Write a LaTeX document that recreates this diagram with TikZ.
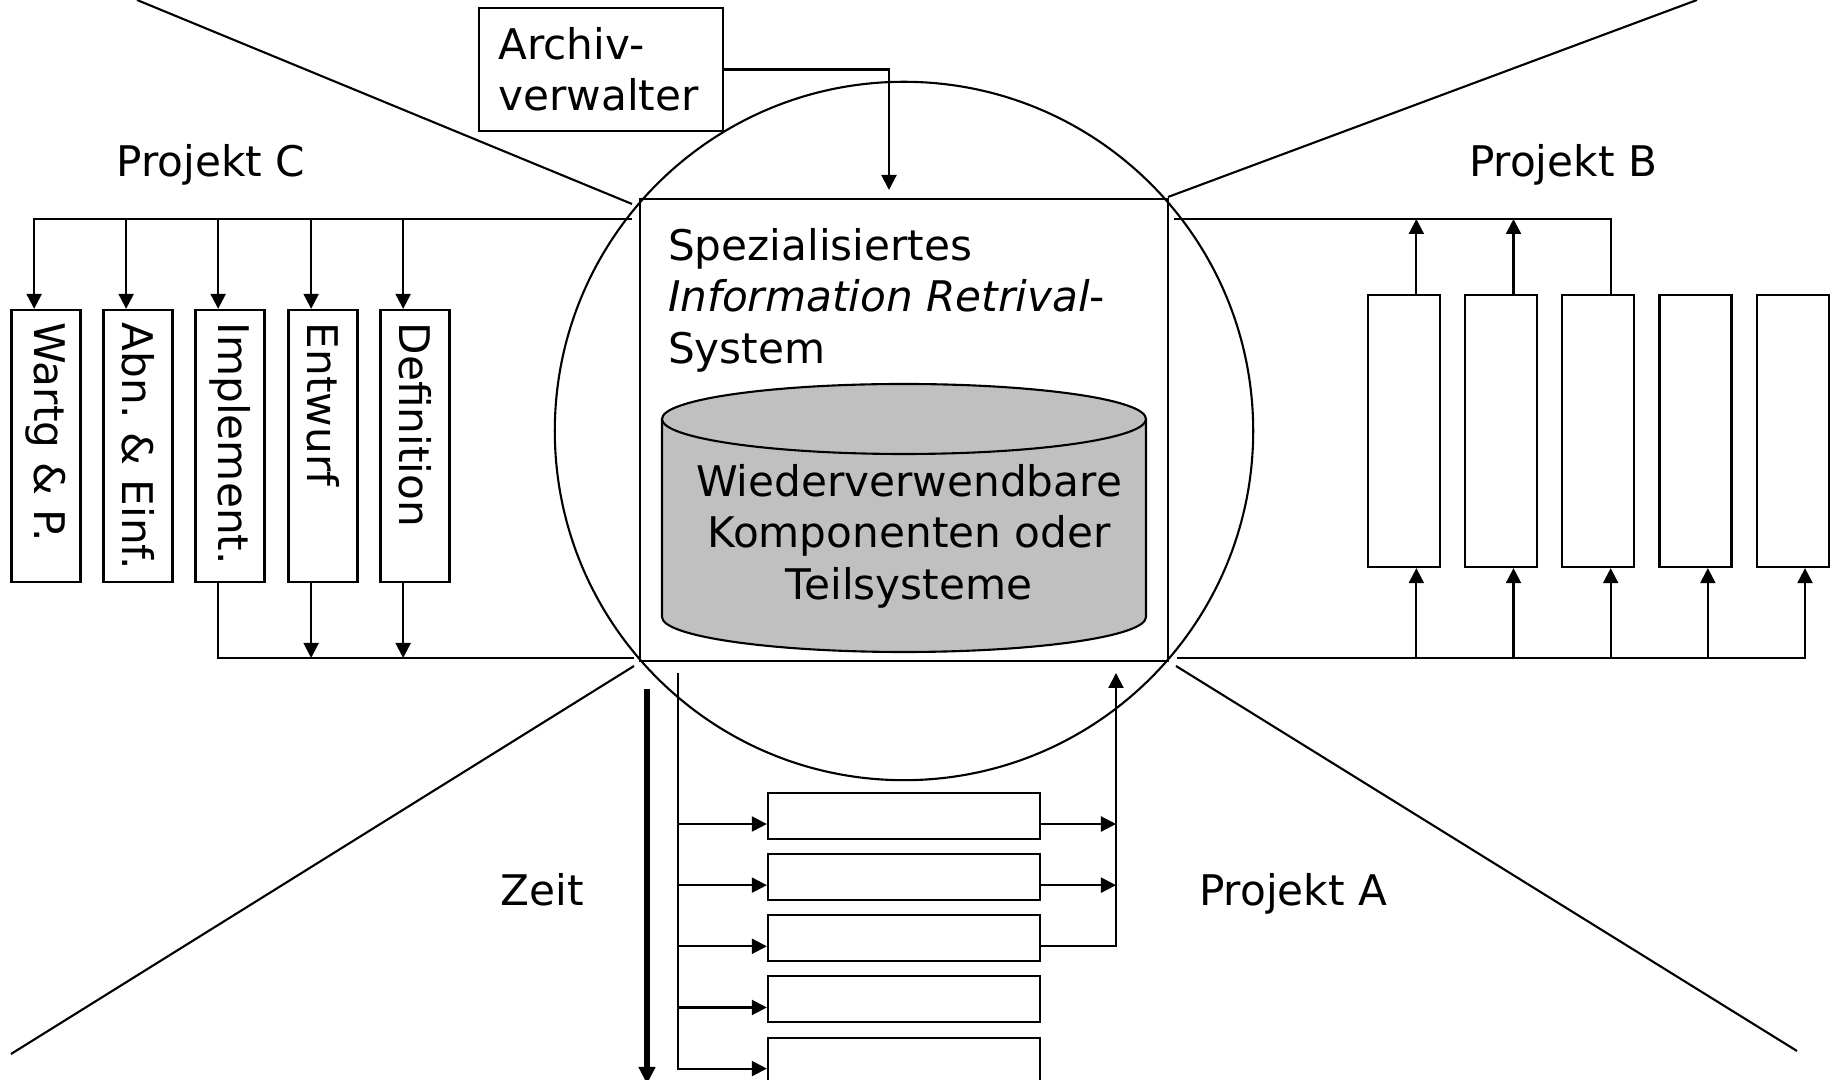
\documentclass[tikz,border=0pt]{standalone}
\usepackage{fontspec}
\setmainfont{DejaVu Sans}
\usetikzlibrary{arrows.meta,positioning,calc}
\definecolor{silver}{HTML}{C0C0C0}

\begin{document}
\begin{tikzpicture}[x=0.01cm,y=-0.01cm,
    font=\fontsize{12}{14.65}\selectfont,
    line width=0.6pt,
    every node/.style={inner sep=0pt},
    >={Triangle[length=0.15cm,width=0.15cm]},
    phase/.style={draw,rotate=-90,minimum width=2.72cm,minimum height=0.69cm,
        text width=2.46cm,inner xsep=0.13cm,align=left},
    slot/.style={draw,minimum width=0.72cm,minimum height=2.72cm},
    job/.style={draw,minimum width=2.72cm,minimum height=0.46cm},
    tag/.style={anchor=base}]
    \useasboundingbox (0,0) rectangle (1835,1080);

    \node[draw,circle,minimum size=6.98cm] (globe) at (904,431) {};
    \node[draw,minimum width=5.28cm,minimum height=4.62cm] (irs) at (904,430) {};
    \node[anchor=north west,align=left] (irstext) at (667,227)
        {Spezialisiertes\\\textit{Information Retrival}-\\System};

    \fill[silver] (662,419) -- (662,617) arc[start angle=180,end angle=0,x radius=242,y radius=35] -- (1146,419) -- cycle;
    \draw (662,419) -- (662,617) arc[start angle=180,end angle=0,x radius=242,y radius=35] -- (1146,419);
    \draw[fill=silver] (904,419) ellipse[x radius=242,y radius=35];
    \node[align=center] (store) at (909,536) {Wiederverwendbare\\Komponenten oder\\Teilsysteme};

    \node[draw,align=left,text width=2.05cm,inner xsep=0.19cm,minimum height=1.23cm] (archiv) at (601,69.5) {Archiv-\\verwalter};
    \coordinate (irsIn) at (889,190);
    \draw[->] (archiv.east) -| (irsIn);

    \coordinate (dNW) at (137,0);
    \coordinate (dNWin) at (632,204);
    \coordinate (dNE) at (1697,0);
    \coordinate (dNEin) at (1168,197);
    \coordinate (dSW) at (11,1054);
    \coordinate (dSWin) at (634,666);
    \coordinate (dSE) at (1797,1051);
    \coordinate (dSEin) at (1176,666);
    \draw (dNW) -- (dNWin);
    \draw (dNE) -- (dNEin);
    \draw (dSW) -- (dSWin);
    \draw (dSE) -- (dSEin);

    \node[tag] (projC) at (211,177) {Projekt C};
    \node[tag] (projB) at (1563,177) {Projekt B};
    \node[tag] (projA) at (1293,906) {Projekt A};
    \node[tag] (zeit) at (542,906) {Zeit};

    \node[phase] (wartg) at (46,446) {Wartg~\&~P.};
    \node[phase] (abn) at (138,446) {Abn.~\&~Einf.};
    \node[phase] (impl) at (230,446) {Implement.};
    \node[phase] (entw) at (323,446) {Entwurf};
    \node[phase] (defi) at (415,446) {Definition};

    \coordinate (cIn) at (632,219);
    \coordinate (cOut) at (634,658);
    \draw[->] (cIn) -| ($(wartg.south west)!1/3!(wartg.north west)$);
    \draw[->] (cIn) -| ($(abn.south west)!1/3!(abn.north west)$);
    \draw[->] (cIn) -| ($(impl.south west)!1/3!(impl.north west)$);
    \draw[->] (cIn) -| ($(entw.south west)!1/3!(entw.north west)$);
    \draw[->] (cIn) -| ($(defi.south west)!1/3!(defi.north west)$);
    \coordinate (implB) at ($(impl.south east)!1/3!(impl.north east)$);
    \coordinate (entwB) at ($(entw.south east)!1/3!(entw.north east)$);
    \coordinate (defiB) at ($(defi.south east)!1/3!(defi.north east)$);
    \draw (implB) |- (cOut);
    \draw[->] (entwB) -- (entwB |- cOut);
    \draw[->] (defiB) -- (defiB |- cOut);

    \node[slot] (pb1) at (1404,431) {};
    \node[slot,right=0.23cm of pb1] (pb2) {};
    \node[slot,right=0.23cm of pb2] (pb3) {};
    \node[slot,right=0.23cm of pb3] (pb4) {};
    \node[slot,right=0.23cm of pb4] (pb5) {};

    \coordinate (bIn) at (1174,219);
    \coordinate (bOut) at (1177,658);
    \coordinate (pb1T) at ($(pb1.north west)!2/3!(pb1.north east)$);
    \coordinate (pb2T) at ($(pb2.north west)!2/3!(pb2.north east)$);
    \draw (bIn) -| ($(pb3.north west)!2/3!(pb3.north east)$);
    \draw[->] (pb1T) -- (pb1T |- bIn);
    \draw[->] (pb2T) -- (pb2T |- bIn);
    \draw[->] (bOut) -| ($(pb1.south west)!2/3!(pb1.south east)$);
    \draw[->] (bOut) -| ($(pb2.south west)!2/3!(pb2.south east)$);
    \draw[->] (bOut) -| ($(pb3.south west)!2/3!(pb3.south east)$);
    \draw[->] (bOut) -| ($(pb4.south west)!2/3!(pb4.south east)$);
    \draw[->] (bOut) -| ($(pb5.south west)!2/3!(pb5.south east)$);

    \node[job] (pa1) at (904,816) {};
    \node[job,below=0.13cm of pa1] (pa2) {};
    \node[job,below=0.13cm of pa2] (pa3) {};
    \node[job,below=0.13cm of pa3] (pa4) {};
    \node[job,below=0.13cm of pa4] (pa5) {};

    \coordinate (aIn) at (678,673);
    \coordinate (aOut) at (1116,673);
    \draw[->] (aIn) |- ($(pa1.north west)!2/3!(pa1.south west)$);
    \draw[->] (aIn) |- ($(pa2.north west)!2/3!(pa2.south west)$);
    \draw[->] (aIn) |- ($(pa3.north west)!2/3!(pa3.south west)$);
    \draw[->] (aIn) |- ($(pa4.north west)!2/3!(pa4.south west)$);
    \draw[->] (aIn) |- ($(pa5.north west)!2/3!(pa5.south west)$);
    \coordinate (pa1R) at ($(pa1.north east)!2/3!(pa1.south east)$);
    \coordinate (pa2R) at ($(pa2.north east)!2/3!(pa2.south east)$);
    \draw[->] (pa1R) -- (pa1R -| aOut);
    \draw[->] (pa2R) -- (pa2R -| aOut);
    \draw[->] ($(pa3.north east)!2/3!(pa3.south east)$) -| (aOut);

    \coordinate (t0) at (647,689);
    \coordinate (t1) at (647,1084);
    \draw[line width=1.8pt,-{Triangle[length=0.17cm,width=0.16cm]}] (t0) -- (t1);
\end{tikzpicture}
\end{document}
